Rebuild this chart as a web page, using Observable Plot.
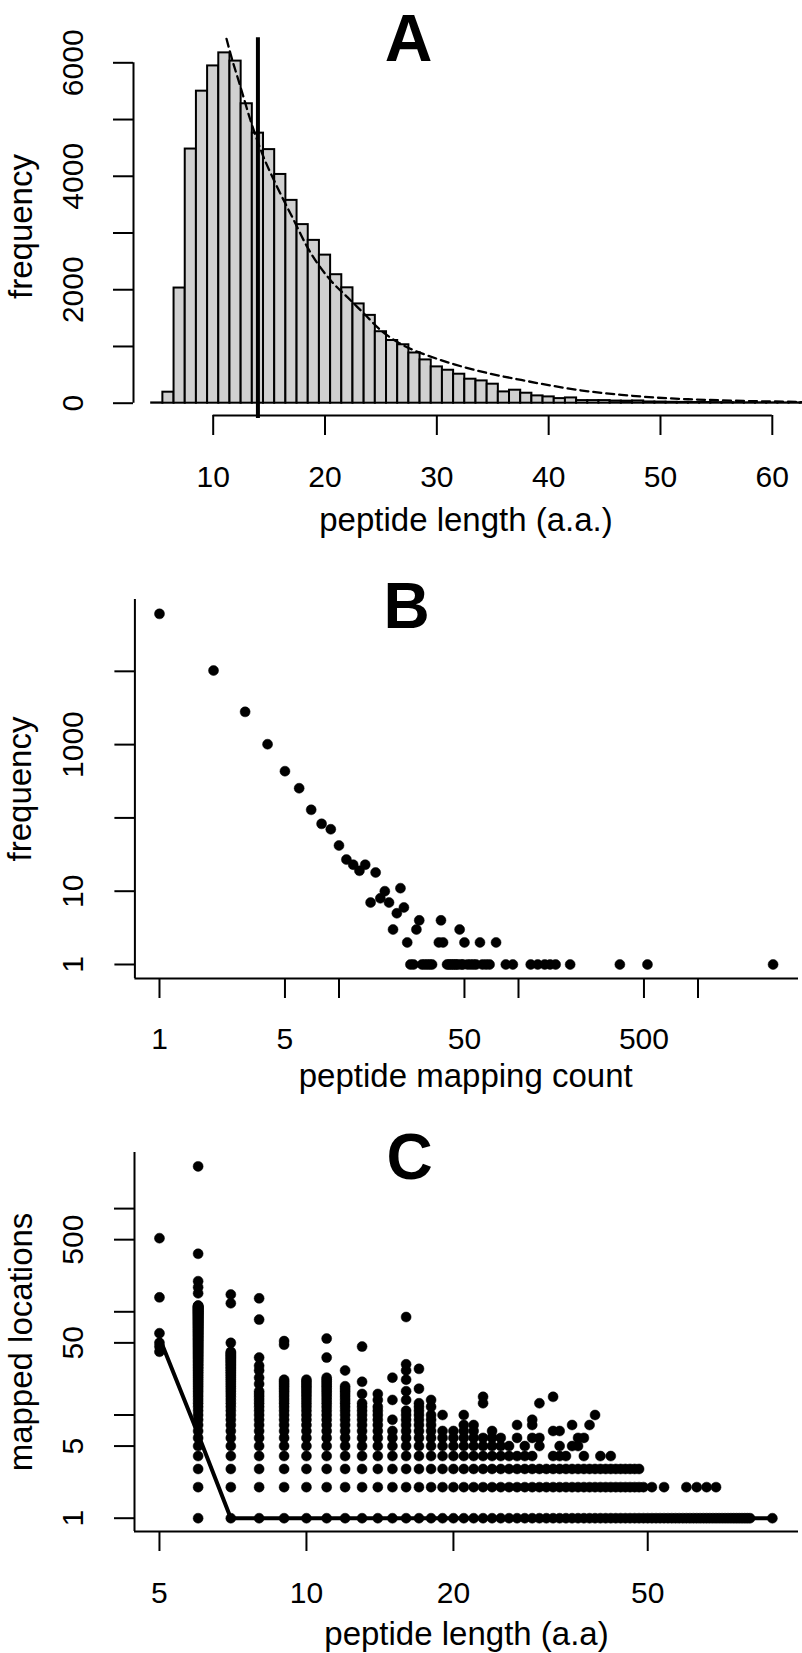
<!DOCTYPE html>
<html>
<head>
<meta charset="utf-8">
<script src="https://cdn.jsdelivr.net/npm/d3@7"></script>
<script src="https://cdn.jsdelivr.net/npm/@observablehq/plot@0.6"></script>
<style>
  html, body { margin: 0; padding: 0; background: #fff; }
  #wrap { position: relative; width: 802px; height: 1653px; overflow: hidden; background: #fff; }
</style>
</head>
<body>
<div id="wrap"></div>
<script>
// ---------------- Panel A: peptide length histogram ----------------
const histLengths = [5,6,7,8,9,10,11,12,13,14,15,16,17,18,19,20,21,22,23,24,25,26,27,28,29,30,31,32,33,34,35,36,37,38,39,40,41,42,43,44,45,46,47,48,49,50,51,52,53,54,55,56,57,58,59,60,61,62,63];
const histCounts  = [5,194,2030,4480,5500,5945,6175,6030,5278,4760,4470,4032,3575,3148,2870,2610,2265,2034,1750,1548,1260,1105,1030,885,763,640,581,511,423,393,335,199,229,176,129,111,81,93,46,46,46,38,36,40,22,20,16,14,12,12,10,9,8,7,7,6,5,5,4];
const fitLengths = [11.19,11.55,12.45,13.34,14.39,15.73,17.22,18.42,20.51,22.0,23.5,25.0,26.5,27.98,28.58,31.56,34.55,37.54,40.52,43.51,46.5,49.48,52.47,55.46,58.44,61.43,62.6];
const fitCounts  = [6423,6159,5570,4983,4396,3808,3221,2750,2163,1869,1576,1282,1076,929,884,685,530,410,300,210,148,100,70,50,35,26,20];
const medianLength = 14;
const medianLineSpan = [-270, 6440];
const aXTicks = [10,20,30,40,50,60];
const aYTicks = [0,1000,2000,3000,4000,5000,6000];
const aYLabels = [0,2000,4000,6000];
const aXTitle = "peptide length (a.a.)";
const aYTitle = "frequency";

// ---------------- Panel B: mapping count frequencies ----------------
const bMapCount = [1,2,3,4,5,6,7,8,9,10,11,12,13,14,15,16,17,18,19,20,21,22,23,24,25,26,27,28,29,30,31,32,33,36,37,38,40,41,42,43,44,45,46,47,48,49,50,52,54,56,58,61,63,66,69,75,85,93,117,128,140,150,161,194,367,523,2620];
const bFreq     = [60800,10250,2800,1013,434,254,129,83,70,42,27,23,19,23,7,18,8,10,7,3,5,11,6,2,1,1,3,4,1,1,1,1,1,2,4,2,1,1,1,1,1,1,1,3,1,1,2,1,1,1,1,2,1,1,1,2,1,1,1,1,1,1,1,1,1,1,1];
const bXTicks = [1,5,10,50,100,500,1000];
const bXLabels = [1,5,50,500];
const bYTicks = [1,10,100,1000,10000];
const bYLabels = [1,10,1000];
const bXTitle = "peptide mapping count";
const bYTitle = "frequency";

// ---------------- Panel C: mapped locations vs peptide length ----------------
const cLengths = [5,6,7,8,9,10,11,12,13,14,15,16,17,18,19,20,21,22,23,24,25,26,27,28,29,30,31,32,33,34,35,36,37,38,39,40,41,42,43,44,45,46,47,48,49,50,51,52,53,54,55,56,57,58,59,60,61,62,63,64,65,66,67,68,69,70,71,72,73,74,75,76,77,78,79,80,81,90];
// highest mapped-location count reached by an unbroken column of values 1..n at each length
const cRunMax  = [0,115,41,17,22,22,23,19,13,12,7,11,13,10,7,7,8,8,6,7,6,5,4,5,4,3,3,4,5,4,3,3,4,3,3,4,3,4,3,3,3,3,3,3,2,1,2,1,1,2,1,1,1,1,1,2,1,1,2,1,1,2,1,1,2,1,1,1,1,1,1,1,1,1,1,1,1,1];
// isolated points above the columns
const cOutLen = [5,5,5,5,5,5, 6,6,6,6,6, 7,7,7, 8,8,8,8,8,8,8, 9,9, 11,11, 12, 13,13,13, 14,14, 15,15,15, 16,16,16,16,16,16, 17,17, 18,18, 19, 21, 23,23, 27,27, 29,29,29, 30,30,30, 32,32, 33, 35,35, 36,36, 37, 38, 39];
const cOutLoc = [41,46,50,62,138,517, 151,173,198,365,2565, 50,121,147, 20,23,27,30,36,84,135, 48,52, 36,55, 27, 16,21,46, 14,16, 9,14,23, 14,17,22,27,31,89, 18,28, 12,14, 10, 10, 13,15, 6,8, 6,8,9, 5,6,13, 7,15, 7, 5,8, 5,6, 6, 8, 10];
const cMedLen = [5,6,7,90];
const cMedLoc = [56,6.5,1,1];
const cXTicks = [5,10,20,50];
const cYTicks = [1,5,10,50,100,500,1000];
const cYLabels = [1,5,50,500];
const cXTitle = "peptide length (a.a)";
const cYTitle = "mapped locations";

// ---------------- tables ----------------
const histTable = histLengths.map((l, i) => ({lo: l - 0.5, hi: l + 0.5, count: histCounts[i]}));
const fitTable = fitLengths.map((l, i) => ({len: l, count: fitCounts[i]}));
const bTable = bMapCount.map((c, i) => ({count: c, freq: bFreq[i]}));
const cTable = [];
cLengths.forEach((L, i) => { for (let k = 1; k <= cRunMax[i]; k++) cTable.push({len: L, loc: k}); });
cOutLen.forEach((L, i) => cTable.push({len: L, loc: cOutLoc[i]}));
const cMedTable = cMedLen.map((l, i) => ({len: l, loc: cMedLoc[i]}));

const W = 802;
const style = {fontFamily: "'Liberation Sans', Arial, Helvetica, sans-serif", background: "transparent", overflow: "visible", color: "black"};
const TICK = 20, LW = 2, TF = 30, LF = 33;
const blank = () => "";
const wrap = document.getElementById("wrap");
function place(svg, top) {
  svg.style.position = "absolute";
  svg.style.left = "0px";
  svg.style.top = top + "px";
  wrap.appendChild(svg);
}

// ---------------- Panel A ----------------
const xA = [2.873, 62.70], yA = [-216.8, 6446];
place(Plot.plot({
  width: W, height: 560, marginLeft: 133, marginRight: 0, marginTop: 37, marginBottom: 145,
  x: {domain: xA, axis: null}, y: {domain: yA, axis: null},
  style,
  marks: [
    Plot.rect(histTable, {x1: "lo", x2: "hi", y1: 0, y2: "count", fill: "#d0d0d0", stroke: "black", strokeWidth: 2}),
    Plot.line(fitTable, {x: "len", y: "count", stroke: "black", strokeWidth: 2.3, strokeDasharray: "8,5", curve: "monotone-x"}),
    Plot.ruleX([medianLength], {y1: medianLineSpan[0], y2: medianLineSpan[1], stroke: "black", strokeWidth: 4}),
    Plot.ruleX([xA[0]], {y1: aYTicks[0], y2: aYTicks[aYTicks.length - 1], strokeWidth: LW}),
    Plot.ruleY([yA[0]], {x1: aXTicks[0], x2: aXTicks[aXTicks.length - 1], strokeWidth: LW}),
    Plot.axisY(aYTicks, {tickSize: TICK, strokeWidth: LW, tickFormat: blank, label: null}),
    Plot.axisX(aXTicks, {tickSize: TICK, strokeWidth: LW, tickFormat: blank, label: null}),
    Plot.text(aYLabels, {y: d => d, text: d => String(d), frameAnchor: "left", dx: -60, rotate: -90, textAnchor: "middle", lineAnchor: "middle", fontSize: TF}),
    Plot.text(aXTicks, {x: d => d, text: d => String(d), frameAnchor: "bottom", dy: 62, textAnchor: "middle", lineAnchor: "middle", fontSize: TF}),
    Plot.text([aXTitle], {frameAnchor: "bottom", dx: -2, dy: 115, textAnchor: "middle", lineAnchor: "bottom", fontSize: LF}),
    Plot.text([aYTitle], {frameAnchor: "left", dx: -102, rotate: -90, textAnchor: "middle", lineAnchor: "bottom", fontSize: LF}),
    Plot.text(["A"], {frameAnchor: "top", dx: -59.5, dy: 23, textAnchor: "middle", lineAnchor: "bottom", fontSize: 66, fontWeight: "bold"})
  ]
}), 0);

// ---------------- Panel B ----------------
const xB = [0.7295, 3630], yB = [0.644, 95500];
place(Plot.plot({
  width: W, height: 540, marginLeft: 134.4, marginRight: 4, marginTop: 39, marginBottom: 122,
  x: {type: "log", domain: xB, axis: null}, y: {type: "log", domain: yB, axis: null},
  style,
  marks: [
    Plot.ruleX([xB[0]], {strokeWidth: LW}),
    Plot.ruleY([yB[0]], {strokeWidth: LW}),
    Plot.axisY(bYTicks, {tickSize: TICK, strokeWidth: LW, tickFormat: blank, label: null}),
    Plot.axisX(bXTicks, {tickSize: TICK, strokeWidth: LW, tickFormat: blank, label: null}),
    Plot.dot(bTable, {x: "count", y: "freq", r: 5, fill: "black", stroke: "black", strokeWidth: 0.5}),
    Plot.text(bYLabels, {y: d => d, text: d => String(d), frameAnchor: "left", dx: -61.4, rotate: -90, textAnchor: "middle", lineAnchor: "middle", fontSize: TF}),
    Plot.text(bXLabels, {x: d => d, text: d => String(d), frameAnchor: "bottom", dy: 60.5, textAnchor: "middle", lineAnchor: "middle", fontSize: TF}),
    Plot.text([bXTitle], {frameAnchor: "bottom", dx: -1, dy: 108, textAnchor: "middle", lineAnchor: "bottom", fontSize: LF}),
    Plot.text([bYTitle], {frameAnchor: "left", dx: -103.4, rotate: -90, textAnchor: "middle", lineAnchor: "bottom", fontSize: LF}),
    Plot.text(["B"], {frameAnchor: "top", dx: -60, dy: 28, textAnchor: "middle", lineAnchor: "bottom", fontSize: 64, fontWeight: "bold"})
  ]
}), 560);

// ---------------- Panel C ----------------
const xC = [4.4447, 101.8], yC = [0.7433, 3496];
place(Plot.plot({
  width: W, height: 553, marginLeft: 134, marginRight: 4, marginTop: 52, marginBottom: 122,
  x: {type: "log", domain: xC, axis: null}, y: {type: "log", domain: yC, axis: null},
  style,
  marks: [
    Plot.ruleX([xC[0]], {strokeWidth: LW}),
    Plot.ruleY([yC[0]], {strokeWidth: LW}),
    Plot.axisY(cYTicks, {tickSize: TICK, strokeWidth: LW, tickFormat: blank, label: null}),
    Plot.axisX(cXTicks, {tickSize: TICK, strokeWidth: LW, tickFormat: blank, label: null}),
    Plot.dot(cTable, {x: "len", y: "loc", r: 5, fill: "black", stroke: "black", strokeWidth: 0.5}),
    Plot.line(cMedTable, {x: "len", y: "loc", stroke: "black", strokeWidth: 4, strokeLinecap: "round"}),
    Plot.text(cYLabels, {y: d => d, text: d => String(d), frameAnchor: "left", dx: -61.5, rotate: -90, textAnchor: "middle", lineAnchor: "middle", fontSize: TF}),
    Plot.text(cXTicks, {x: d => d, text: d => String(d), frameAnchor: "bottom", dy: 62, textAnchor: "middle", lineAnchor: "middle", fontSize: TF}),
    Plot.text([cXTitle], {frameAnchor: "bottom", dx: 0, dy: 113, textAnchor: "middle", lineAnchor: "bottom", fontSize: LF}),
    Plot.text([cYTitle], {frameAnchor: "left", dx: -103, rotate: -90, textAnchor: "middle", lineAnchor: "bottom", fontSize: LF}),
    Plot.text(["C"], {frameAnchor: "top", dx: -57, dy: 26.5, textAnchor: "middle", lineAnchor: "bottom", fontSize: 64, fontWeight: "bold"})
  ]
}), 1100);
</script>
</body>
</html>
